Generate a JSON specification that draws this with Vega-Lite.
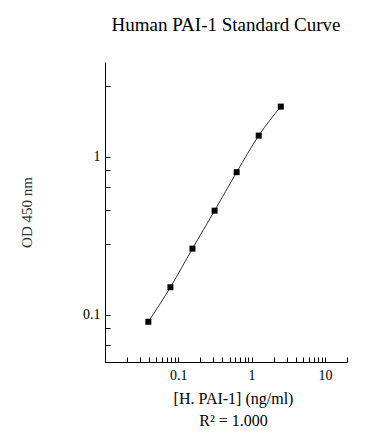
{
  "$schema": "https://vega.github.io/schema/vega-lite/v6.json",
  "autosize": {"type": "none"},
  "padding": {"left": 105, "top": 62, "right": 41, "bottom": 82},
  "width": 242,
  "height": 300,
  "background": "white",
  "config": {
    "view": {"stroke": null},
    "font": "Liberation Serif"
  },
  "title": {
    "text": "Human PAI-1 Standard Curve",
    "font": "Liberation Serif",
    "fontSize": 19,
    "fontWeight": "normal",
    "color": "black",
    "anchor": "middle",
    "offset": 27
  },
  "data": {
    "values": [
      {"conc": 0.039, "od": 0.090},
      {"conc": 0.078, "od": 0.149},
      {"conc": 0.156, "od": 0.262},
      {"conc": 0.3125, "od": 0.456},
      {"conc": 0.625, "od": 0.80},
      {"conc": 1.25, "od": 1.365},
      {"conc": 2.5, "od": 2.085}
    ]
  },
  "encoding": {
    "x": {
      "field": "conc",
      "type": "quantitative",
      "scale": {"type": "log", "domain": [0.01, 20], "nice": false},
      "axis": {
        "values": [0.01, 0.02, 0.03, 0.04, 0.05, 0.06, 0.07, 0.08, 0.09, 0.1, 0.2, 0.3, 0.4, 0.5, 0.6, 0.7, 0.8, 0.9, 1, 2, 3, 4, 5, 6, 7, 8, 9, 10, 20],
        "labelExpr": "datum.value == 0.1 ? '0.1' : datum.value == 1 ? '1' : datum.value == 10 ? '10' : ''",
        "grid": false,
        "domainColor": "black",
        "tickColor": "black",
        "tickSize": -5,
        "labelPadding": 11,
        "labelFont": "Liberation Serif",
        "labelFontSize": 14,
        "labelColor": "black",
        "labelFlush": false,
        "labelOverlap": false,
        "title": ["[H. PAI-1] (ng/ml)", "R² = 1.000"],
        "titleFont": "Liberation Serif",
        "titleFontSize": 16,
        "titleFontWeight": "normal",
        "titleColor": "black",
        "titleBaseline": "alphabetic",
        "titleLineHeight": 22,
        "titleX": 128,
        "titleY": 41
      }
    },
    "y": {
      "field": "od",
      "type": "quantitative",
      "scale": {"type": "log", "domain": [0.05, 4], "nice": false},
      "axis": {
        "values": [0.064, 0.082, 0.1, 0.28, 0.46, 0.64, 0.82, 1, 2.8],
        "labelExpr": "datum.value == 0.1 ? '0.1' : datum.value == 1 ? '1' : ''",
        "grid": false,
        "domainColor": "black",
        "tickColor": "black",
        "tickSize": -5,
        "labelPadding": 10,
        "labelFont": "Liberation Serif",
        "labelFontSize": 14,
        "labelColor": "black",
        "labelFlush": false,
        "labelOverlap": false,
        "title": "OD 450 nm",
        "titleFont": "Liberation Serif",
        "titleFontSize": 15,
        "titleFontWeight": "normal",
        "titleColor": "#333",
        "titleBaseline": "middle",
        "titleAlign": "center",
        "titleAngle": -90,
        "titleX": -79,
        "titleY": 150
      }
    }
  },
  "layer": [
    {
      "mark": {"type": "line", "interpolate": "monotone", "color": "#333", "strokeWidth": 1}
    },
    {
      "mark": {"type": "point", "shape": "square", "filled": true, "color": "black", "size": 36, "opacity": 1}
    }
  ]
}
